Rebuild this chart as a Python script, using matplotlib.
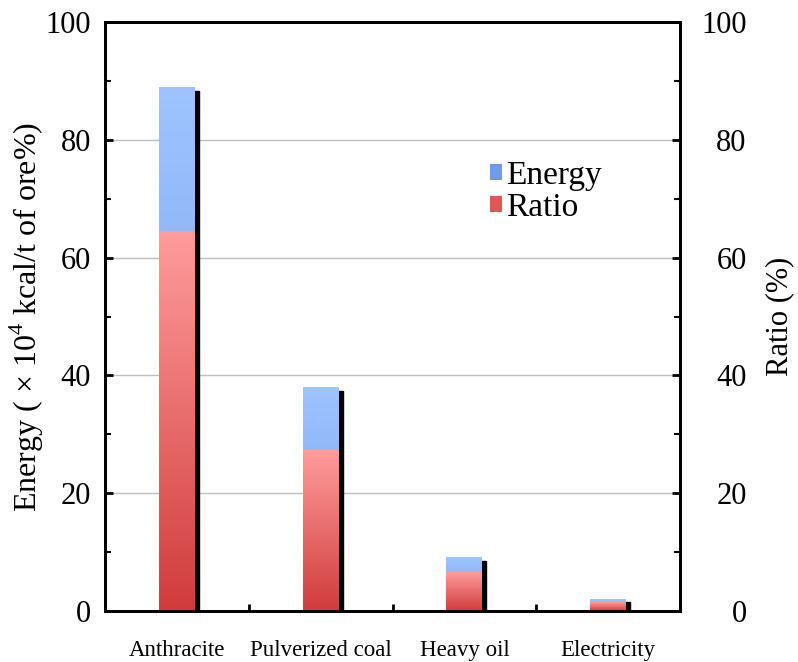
import numpy as np
import matplotlib.pyplot as plt
from matplotlib.colors import LinearSegmentedColormap
from matplotlib.patches import Patch

plt.rcParams['font.family'] = ['Liberation Serif', 'DejaVu Serif']
plt.rcParams['mathtext.fontset'] = 'custom'
plt.rcParams['mathtext.rm'] = 'Liberation Serif'

categories = ['Anthracite', 'Pulverized coal', 'Heavy oil', 'Electricity']
energy = [88.8, 37.9, 9.0, 2.0]
ratio = [64.5, 27.3, 6.6, 1.4]

blue_cmap = LinearSegmentedColormap.from_list('blue', ['#6e9ce6', '#9fc4ff'])
red_cmap = LinearSegmentedColormap.from_list('red', ['#d03c3c', '#ff9c9c'])

fig = plt.figure(figsize=(7.98, 6.62), dpi=100)
ax = fig.add_axes([105 / 798, 1 - 611 / 662, 575 / 798, 589 / 662])

x = np.arange(len(categories))
width = 0.25
shadow_dx = 0.028
shadow_dy = 0.5

# invisible bars give the geometry, gradients and shadows are painted on top
ebars = ax.bar(x, energy, width, color='none', edgecolor='none')
rbars = ax.bar(x, ratio, width, color='none', edgecolor='none')

grad = np.linspace(0, 1, 256).reshape(-1, 1)
for eb, rb in zip(ebars, rbars):
    x0 = eb.get_x()
    x1 = x0 + eb.get_width()
    he = eb.get_height()
    hr = rb.get_height()
    ax.add_patch(plt.Rectangle((x1 - 0.01, 0), shadow_dx + 0.01, he - shadow_dy,
                               color='black', zorder=2))
    ax.imshow(grad, extent=[x0, x1, 0, he], origin='lower', aspect='auto',
              cmap=blue_cmap, zorder=3)
    ax.imshow(grad, extent=[x0, x1, 0, hr], origin='lower', aspect='auto',
              cmap=red_cmap, zorder=4)

ax.set_xlim(-0.5, len(categories) - 0.5)
ax.set_ylim(0, 100)
ax.set_yticks(np.arange(0, 101, 20))
ax.set_yticks(np.arange(10, 100, 20), minor=True)
ax.yaxis.grid(True, color='#c0c0c0', linewidth=1)
ax.set_axisbelow(True)

ax.set_xticks(x)
ax.set_xticklabels(categories, fontsize=16.5)
ax.set_xticks(x[:-1] + 0.5, minor=True)
ax.tick_params(axis='x', which='major', length=0, pad=21)
ax.tick_params(axis='x', which='minor', direction='in', length=5, width=2)
ax.tick_params(axis='y', which='major', direction='in', length=6, width=2,
               labelsize=22, pad=10)
ax.tick_params(axis='y', which='minor', direction='in', length=4, width=1.5)

for side in ['left', 'right', 'top', 'bottom']:
    ax.spines[side].set_linewidth(2)

ax.set_ylabel('Energy ( × 10$^{4}$ kcal/t of ore%)', fontsize=23, labelpad=0)

ax2 = ax.twinx()
ax2.set_ylim(0, 100)
ax2.set_yticks(np.arange(0, 101, 20))
ax2.set_yticks(np.arange(10, 100, 20), minor=True)
ax2.tick_params(axis='y', which='major', direction='in', length=6, width=2,
                labelsize=22, pad=48)
ax2.tick_params(axis='y', which='minor', direction='in', length=4, width=1.5)
for lbl in ax2.get_yticklabels():
    lbl.set_horizontalalignment('right')
ax2.set_ylabel('Ratio (%)', fontsize=22, labelpad=13)
for side in ['left', 'right', 'top', 'bottom']:
    ax2.spines[side].set_linewidth(2)

handles = [Patch(facecolor='#6e9ce6', edgecolor='none', label='Energy'),
           Patch(facecolor='#e05858', edgecolor='none', label='Ratio')]
ax2.legend(handles=handles, loc='upper left', bbox_to_anchor=(0.67, 0.765),
           frameon=False, fontsize=24, handlelength=0.36, handleheight=0.36,
           handletextpad=0.1, labelspacing=0.05, borderpad=0, borderaxespad=0)

fig.savefig('out.png', dpi=100)
